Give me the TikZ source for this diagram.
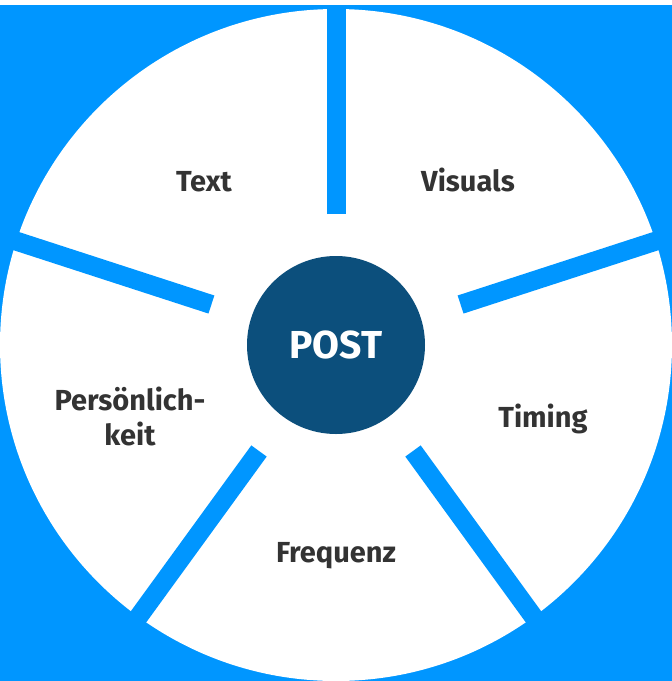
\documentclass[tikz,border=0pt]{standalone}
\usepackage{fontspec}
\setmainfont{Fira Sans}
\usetikzlibrary{calc}

\definecolor{postblue}{HTML}{0096FF}
\definecolor{postdark}{HTML}{0C4F7C}
\definecolor{postgray}{HTML}{333333}

\begin{document}
\begin{tikzpicture}[x=1pt,y=1pt]
\tikzset{
  spoke/.style={draw=postblue,line width=19pt},
  seglabel/.style={inner sep=0pt,text=postgray,align=center,anchor=base,
    font=\fontsize{29}{35}\selectfont\bfseries},
  hub/.style={circle,fill=postdark,minimum size=178pt,inner sep=0pt,
    text=white,font=\fontsize{39}{45}\selectfont\bfseries}
}
\useasboundingbox (0,0) rectangle (672,-681);
\fill [postblue] (0,-5) rectangle (672,-681);
\coordinate (c) at (336,-345);
\fill [white] (c) circle (336);
% five separators
\foreach \a in {90,162,234,306,18}
  \draw [spoke] ($(c)+(\a:131)$) -- ($(c)+(\a:345)$);
\fill [white] (0,0) rectangle (672,-5);
\node [hub] (post) at (336,-345) {POST};
\node [seglabel] (text) at (204,-191.5) {Text};
\node [seglabel] (visuals) at (468,-191.5) {Visuals};
\node [seglabel] (timing) at (543,-427) {Timing};
\node [seglabel] (frequenz) at (336,-562) {Frequenz};
\node [seglabel,anchor=center] (persoenlich) at (130,-416) {Persönlich-\\keit};
\end{tikzpicture}
\end{document}
